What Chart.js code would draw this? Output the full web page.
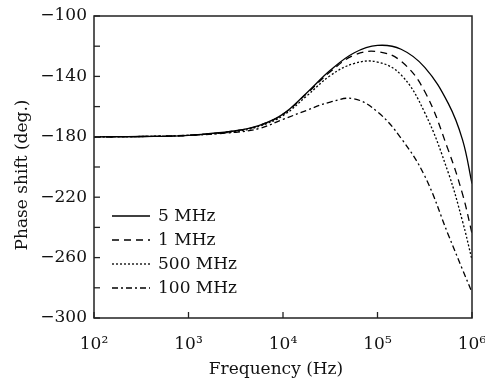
<!DOCTYPE html>
<html>
<head>
<meta charset="utf-8">
<script src="https://cdn.jsdelivr.net/npm/chart.js@4"></script>
<style>
  html, body { margin: 0; padding: 0; background: #fff; }
  #wrap { width: 485px; height: 381px; }
</style>
</head>
<body>
<div id="wrap"><canvas id="c" width="485" height="381"></canvas></div>
<script>
// ---- data ----
const frequencies = [100, 316, 1000, 3162, 5623, 10000, 17783, 31623, 56234, 100000, 177828, 316228, 562341, 794328, 1000000];
const seriesLabels = ['5 MHz', '1 MHz', '500 MHz', '100 MHz'];
const phase5MHz   = [-180, -179.8, -179, -176, -172.5, -165, -151, -136, -124.5, -119.5, -122, -134, -158, -182, -211];
const phase1MHz   = [-180, -179.8, -179, -176, -172.5, -165, -151.5, -137, -126, -123.6, -130, -150, -189, -218, -244];
const phase500MHz = [-180, -179.8, -179, -176.5, -173, -166, -153, -139.5, -131.5, -130.5, -139, -164, -204, -236, -261.5];
const phase100MHz = [-180, -179.8, -179, -177, -174.5, -168.5, -162.5, -157, -154.8, -163.5, -181, -206, -245, -268, -283];
const xTickValues = [100, 1000, 10000, 100000, 1000000];
const xTickLabels = ['10\u00B2', '10\u00B3', '10\u2074', '10\u2075', '10\u2076'];
const yMin = -300, yMax = -100, yStep = 20, yLabelStep = 40;
const xTitle = 'Frequency (Hz)';
const yTitle = 'Phase shift (deg.)';

const FONT = "'DejaVu Serif', serif";
const FS = 17;
const dashes = [[], [7, 5], [2, 2], [6, 3, 2, 3]];
const allSeries = [phase5MHz, phase1MHz, phase500MHz, phase100MHz];

const datasets = allSeries.map((vals, i) => ({
  label: seriesLabels[i],
  data: frequencies.map((f, k) => ({ x: f, y: vals[k] })),
  borderColor: '#000',
  borderWidth: 1.3,
  borderDash: dashes[i],
  pointRadius: 0,
  fill: false,
  tension: 0.4
}));

const framePlugin = {
  id: 'frame',
  afterDraw(chart) {
    const ctx = chart.ctx;
    const a = chart.chartArea;
    const xs = chart.scales.x, ys = chart.scales.y;
    ctx.save();
    ctx.strokeStyle = '#222';
    ctx.lineWidth = 1.5;
    ctx.setLineDash([]);
    ctx.strokeRect(a.left, a.top, a.right - a.left, a.bottom - a.top);
    ctx.lineWidth = 1.3;
    for (let v = yMin; v <= yMax; v += yStep) {
      const py = ys.getPixelForValue(v);
      ctx.beginPath(); ctx.moveTo(a.left, py); ctx.lineTo(a.left + 6, py); ctx.stroke();
    }
    xTickValues.forEach(v => {
      const px = xs.getPixelForValue(v);
      ctx.beginPath(); ctx.moveTo(px, a.bottom); ctx.lineTo(px, a.bottom - 6); ctx.stroke();
    });
    // axis titles (slightly off-centre, as in the reference)
    ctx.font = FS + 'px ' + FONT;
    ctx.fillStyle = '#111';
    ctx.textAlign = 'center';
    ctx.textBaseline = 'middle';
    ctx.fillText(xTitle, (a.left + a.right) / 2 - 7, 370);
    ctx.save();
    ctx.translate(22.5, (a.top + a.bottom) / 2 + 8);
    ctx.rotate(-Math.PI / 2);
    ctx.fillText(yTitle, 0, 0);
    ctx.restore();
    // legend
    const lx0 = a.left + 18, lx1 = a.left + 56, tx = a.left + 64;
    const ly0 = a.top + 200, lstep = 24;
    ctx.textAlign = 'left';
    chart.data.datasets.forEach((ds, i) => {
      const y = ly0 + i * lstep;
      ctx.setLineDash(ds.borderDash);
      ctx.lineWidth = ds.borderWidth;
      ctx.strokeStyle = '#000';
      ctx.beginPath(); ctx.moveTo(lx0, y); ctx.lineTo(lx1, y); ctx.stroke();
      ctx.setLineDash([]);
      ctx.fillText(ds.label, tx, y + 1);
    });
    ctx.restore();
  }
};

new Chart(document.getElementById('c'), {
  type: 'line',
  data: { datasets },
  plugins: [framePlugin],
  options: {
    responsive: false,
    animation: false,
    layout: { padding: { left: 0, right: 13, top: 16, bottom: 0 } },
    plugins: { legend: { display: false }, tooltip: { enabled: false } },
    scales: {
      x: {
        type: 'logarithmic',
        min: 100, max: 1000000,
        afterBuildTicks: s => { s.ticks = xTickValues.map(v => ({ value: v })); },
        afterFit: s => { s.height = 63; s.paddingLeft = 0; s.paddingRight = 0; },
        grid: { display: false, drawTicks: false },
        border: { display: false },
        ticks: {
          autoSkip: false, maxRotation: 0, padding: 16,
          color: '#111', font: { family: FONT, size: FS },
          callback: v => { const i = xTickValues.indexOf(v); return i >= 0 ? xTickLabels[i] : ''; }
        },
        title: { display: false }
      },
      y: {
        min: yMin, max: yMax,
        afterFit: s => { s.width = 94; s.paddingTop = 0; s.paddingBottom = 0; },
        grid: { display: false, drawTicks: false },
        border: { display: false },
        ticks: {
          stepSize: yStep, padding: 7,
          color: '#111', font: { family: FONT, size: FS },
          callback: v => (v % yLabelStep === (yMax % yLabelStep)) ? String(v).replace('-', '\u2212') : ''
        },
        title: { display: false }
      }
    }
  }
});
</script>
</body>
</html>
